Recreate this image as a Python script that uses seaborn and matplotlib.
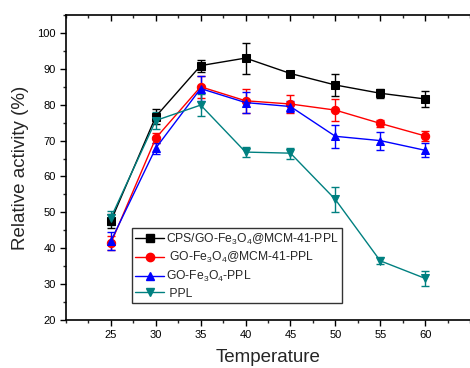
import numpy as np
import pandas as pd
import matplotlib
matplotlib.use("Agg")
import matplotlib.pyplot as plt
import seaborn as sns
from matplotlib.ticker import MultipleLocator
from matplotlib.lines import Line2D

temperature = [25, 30, 35, 40, 45, 50, 55, 60]
series_names = ["CPS/GO-Fe$_3$O$_4$@MCM-41-PPL", " GO-Fe$_3$O$_4$@MCM-41-PPL",
                "GO-Fe$_3$O$_4$-PPL", " PPL"]
cps_vals = [47.6, 76.7, 90.9, 93.0, 88.7, 85.5, 83.2, 81.6]
cps_err = [2.0, 2.0, 1.7, 4.3, 0.8, 3.0, 1.2, 2.2]
gofm_vals = [41.4, 70.7, 85.0, 81.1, 80.2, 78.5, 74.8, 71.3]
gofm_err = [2.0, 1.5, 3.0, 3.3, 2.5, 3.0, 1.0, 1.5]
gof_vals = [42.0, 67.9, 84.5, 80.6, 79.5, 71.2, 70.0, 67.3]
gof_err = [2.5, 1.5, 3.5, 3.0, 1.5, 3.2, 2.5, 2.0]
ppl_vals = [48.5, 75.6, 79.9, 66.8, 66.5, 53.6, 36.5, 31.6]
ppl_err = [2.0, 2.5, 3.0, 1.5, 1.5, 3.5, 1.0, 2.0]

colors = ["#000000", "#FF0000", "#0000FF", "#008080"]
markers = ["s", "o", "^", "v"]

all_vals = [cps_vals, gofm_vals, gof_vals, ppl_vals]
all_errs = [cps_err, gofm_err, gof_err, ppl_err]

rows = []
for name, vals, errs in zip(series_names, all_vals, all_errs):
    for t, v, e in zip(temperature, vals, errs):
        rows.append({"Temperature": t, "Activity": v, "Err": e, "Series": name})
df = pd.DataFrame(rows)

sns.set_style("ticks")
plt.rcParams["font.family"] = ["Liberation Sans", "DejaVu Sans"]
plt.rcParams["mathtext.fontset"] = "custom"
plt.rcParams["mathtext.rm"] = "Liberation Sans"
plt.rcParams["mathtext.it"] = "Liberation Sans:italic"

fig = plt.figure(figsize=(4.70, 3.68), dpi=100)
ax = fig.add_axes([0.1404, 0.1304, 0.8596, 0.8288])

palette = dict(zip(series_names, colors))
marker_map = dict(zip(series_names, markers))

for name in series_names:
    sub = df[df["Series"] == name]
    ax.errorbar(sub["Temperature"], sub["Activity"], yerr=sub["Err"], fmt="none",
                ecolor=palette[name], elinewidth=1.0, capsize=3, capthick=1.0, zorder=2)

sns.lineplot(data=df, x="Temperature", y="Activity", hue="Series", style="Series",
             palette=palette, markers=marker_map, dashes=False, markersize=6,
             linewidth=1.0, ax=ax, legend=False, zorder=3, errorbar=None)
for line, name in zip(ax.get_lines()[-len(series_names):], series_names):
    line.set_markeredgecolor(palette[name])

ax.set_xlim(20, 65)
ax.set_ylim(20, 105)
ax.xaxis.set_major_locator(MultipleLocator(5))
ax.xaxis.set_minor_locator(MultipleLocator(2.5))
ax.yaxis.set_major_locator(MultipleLocator(10))
ax.yaxis.set_minor_locator(MultipleLocator(5))
ax.set_xticks(temperature)
ax.set_xticklabels([str(t) for t in temperature])
ax.set_yticks(range(20, 101, 10))

ax.tick_params(axis="both", which="major", direction="out", length=4, width=1,
               labelsize=8, colors="black")
ax.tick_params(axis="both", which="minor", direction="out", length=2.5, width=1)
ax.tick_params(axis="x", which="both", top=True, labeltop=False)

for side in ["left", "bottom", "top"]:
    ax.spines[side].set_linewidth(1.2)
    ax.spines[side].set_color("black")
ax.spines["right"].set_visible(False)

# top ticks point inward (downward)
for tick in ax.xaxis.get_major_ticks() + ax.xaxis.get_minor_ticks():
    tick.tick2line.set_marker(3)

ax.set_xlabel("Temperature", fontsize=13.5, labelpad=6.5)
ax.set_ylabel("Relative activity (%)", fontsize=13.5, labelpad=6)

handles = [Line2D([0], [0], color=c, marker=m, markersize=6, linewidth=1.0,
                  markeredgecolor=c) for c, m in zip(colors, markers)]
leg = ax.legend(handles, series_names, loc="upper left", bbox_to_anchor=(0.163, 0.302),
                borderaxespad=0, fontsize=8.7, frameon=True, fancybox=False,
                edgecolor="black", handlelength=2.4, handletextpad=0.1,
                labelspacing=0.3, borderpad=0.3)
leg.get_frame().set_linewidth(1.0)

fig.savefig("out.png", dpi=100)
